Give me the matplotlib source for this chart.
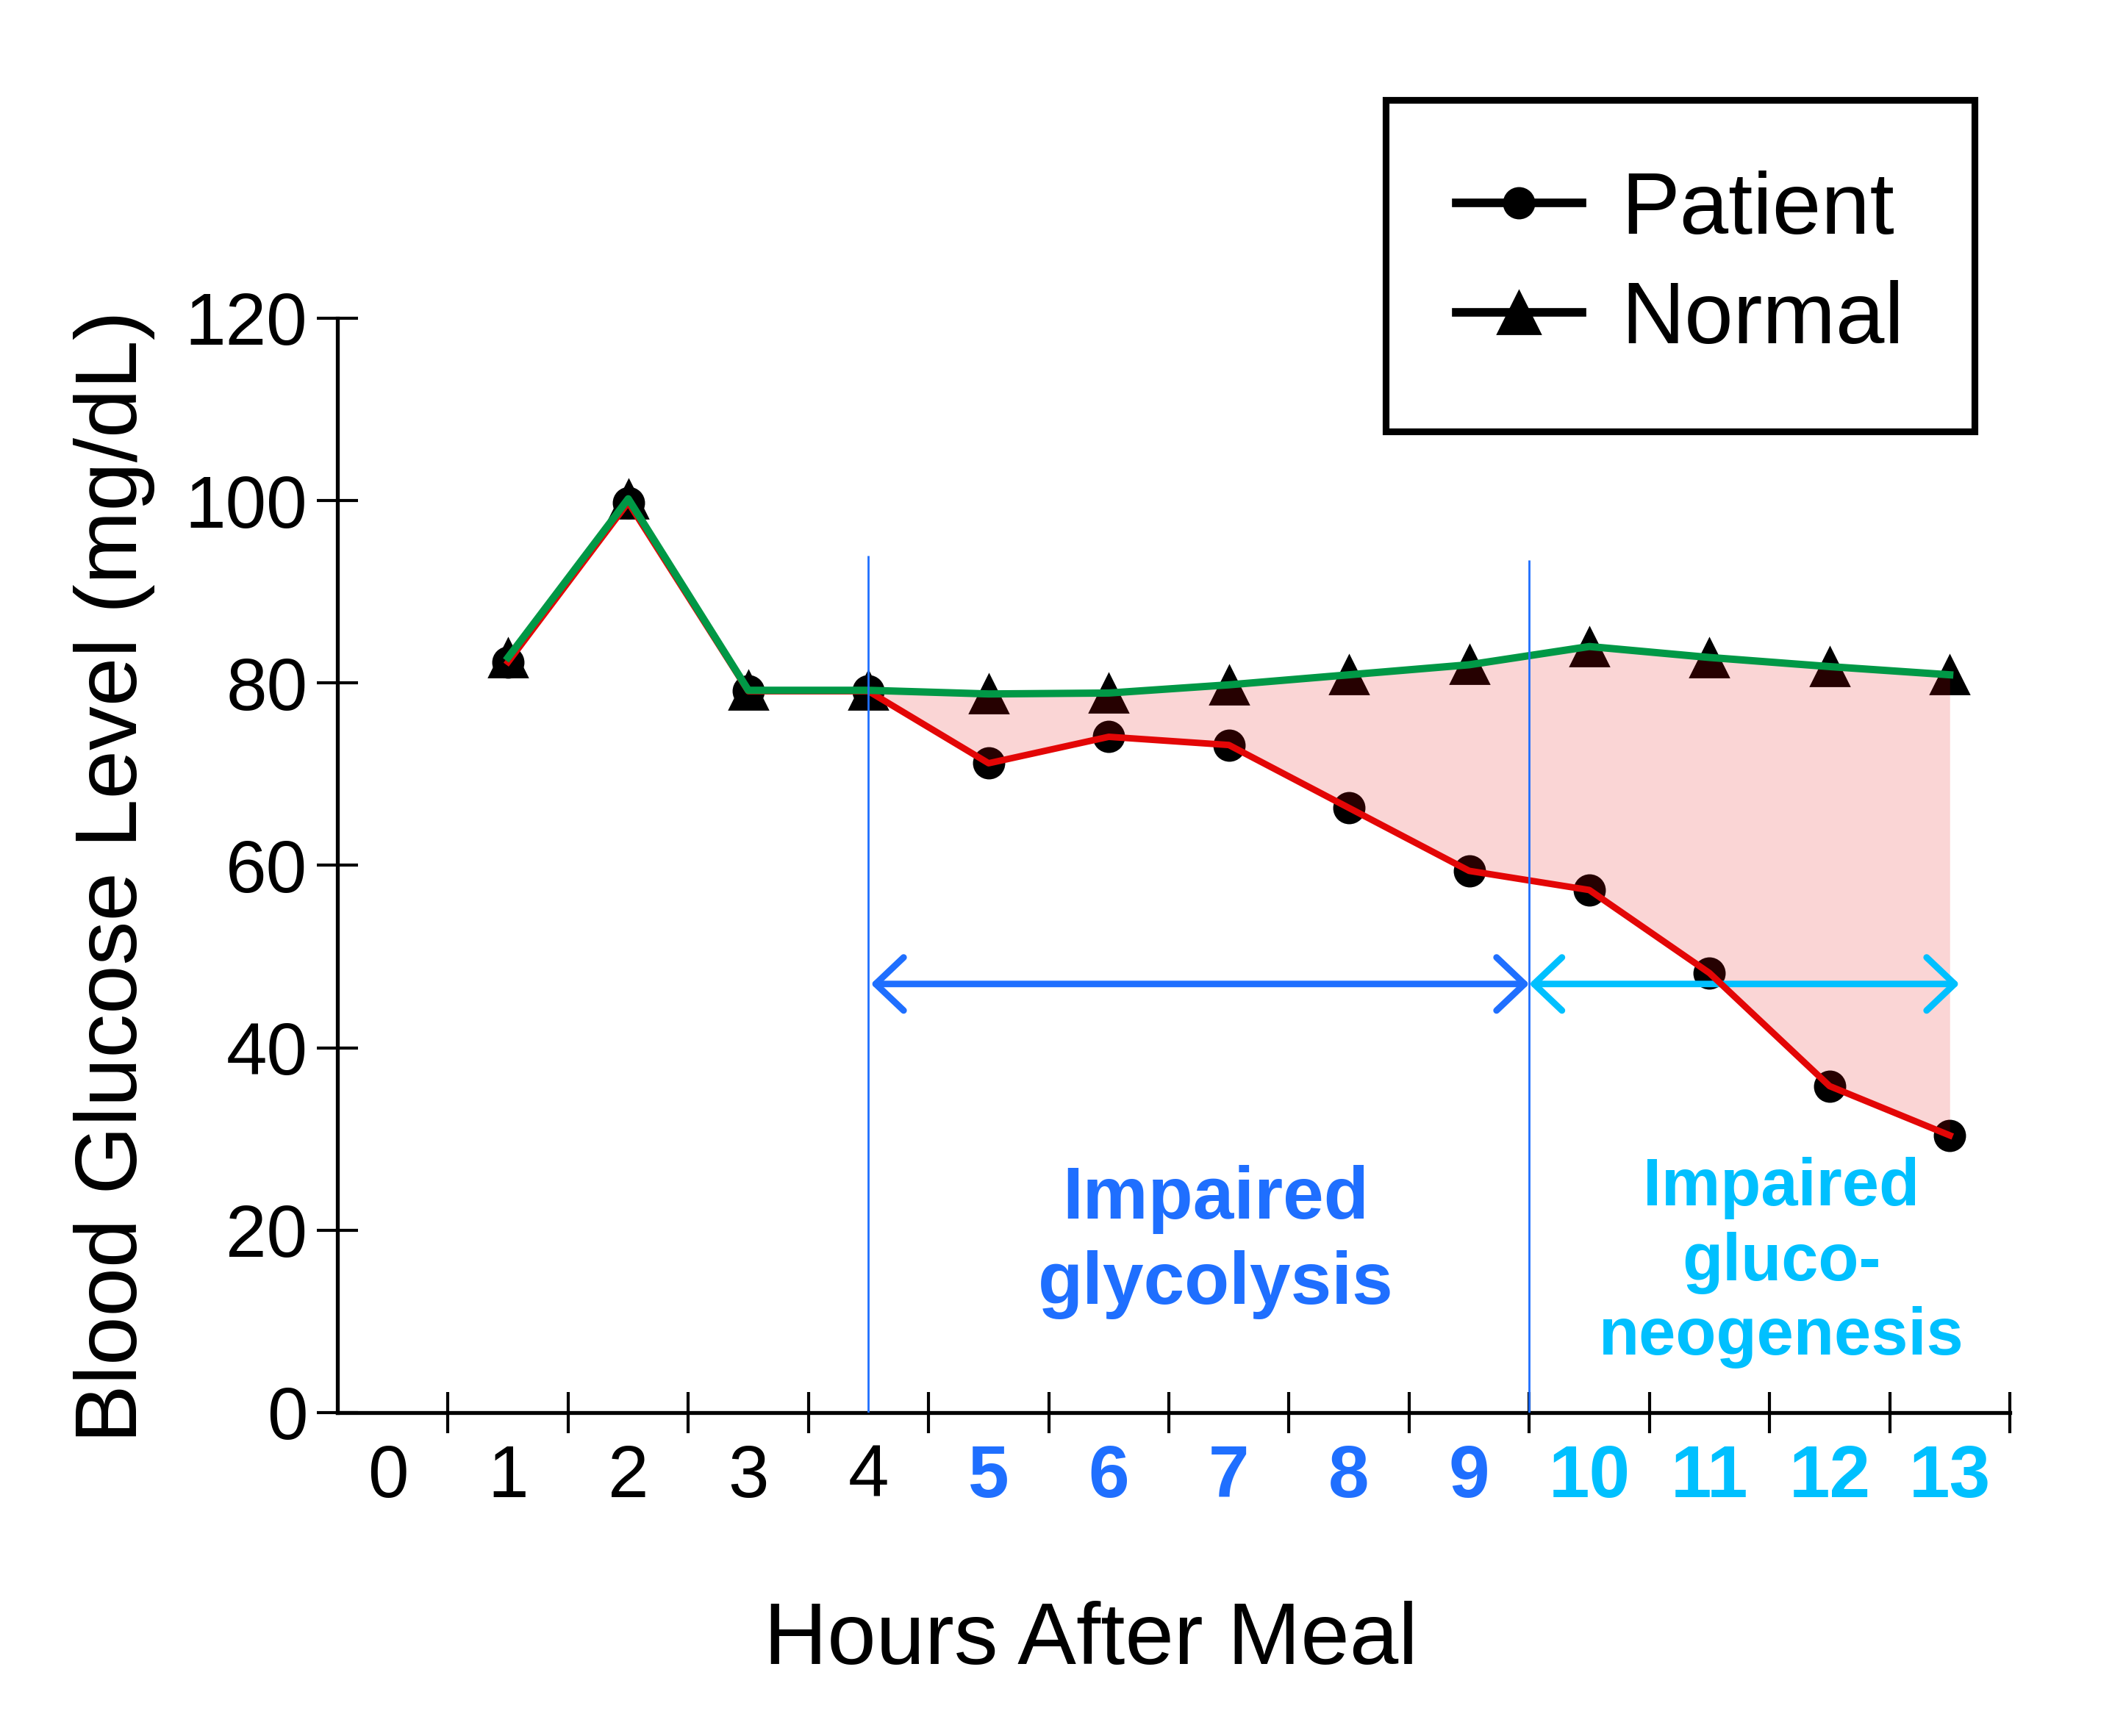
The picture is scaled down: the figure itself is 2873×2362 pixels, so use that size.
import matplotlib
matplotlib.use("Agg")
import matplotlib.pyplot as plt
from matplotlib.lines import Line2D
from matplotlib.patches import FancyArrowPatch, ArrowStyle

plt.rcParams['font.family'] = ['Liberation Sans', 'DejaVu Sans']

# data
hours = [1, 2, 3, 4, 5, 6, 7, 8, 9, 10, 11, 12, 13]
patient = [82.3, 99.8, 79.1, 79.1, 71.2, 74.1, 73.2, 66.3, 59.4, 57.3, 48.2, 35.8, 30.4]
normal = [82.8, 100.2, 79.2, 79.2, 78.8, 78.9, 79.8, 80.9, 82.0, 84.0, 82.8, 81.8, 80.9]
hour_labels = [str(h) for h in range(14)]
y_ticks = [0, 20, 40, 60, 80, 100, 120]

RED = '#e30606'
GREEN = '#009846'
BLUE = '#1f6fff'
CYAN = '#00c0ff'

fig = plt.figure(figsize=(14.365, 11.81), dpi=200)
ax = fig.add_axes([0.1598, 0.1863, 0.7918, 0.6304])

# markers first, then the shaded gap, then the lines on top
ax.plot(hours, patient, 'o', color='black', ms=14.8, zorder=2)
ax.plot(hours, normal, '^', color='black', ms=18.5, zorder=2)
ax.fill_between(hours[3:], patient[3:], normal[3:], color=RED, alpha=0.17,
                lw=0, zorder=3)
ax.plot(hours, patient, color=RED, lw=3.2, zorder=4)
ax.plot(hours, normal, color=GREEN, lw=3.6, zorder=5)

# phase boundaries
ax.vlines(4, 0, 94, color=BLUE, lw=1.0, zorder=6)
ax.vlines(9.5, 0, 93.5, color=BLUE, lw=1.0, zorder=6)

style = ArrowStyle('<->', head_length=13.7, head_width=13)
for x0, x1, c in [(4.02, 9.5, BLUE), (9.5, 13.08, CYAN)]:
    arr = FancyArrowPatch((x0, 47), (x1, 47), arrowstyle=style, mutation_scale=1,
                          color=c, lw=3.2, shrinkA=0, shrinkB=0,
                          capstyle='round', joinstyle='round', zorder=3.5)
    ax.add_patch(arr)

ax.text(6.89, 18.7, 'Impaired\nglycolysis', color=BLUE, fontsize=36,
        fontweight='bold', ha='center', va='center', linespacing=1.3)
ax.text(11.6, 16.4, 'Impaired\ngluco-\nneogenesis', color=CYAN, fontsize=32.5,
        fontweight='bold', ha='center', va='center', linespacing=1.25)

ax.set_xlim(-0.42, 13.5)
ax.set_ylim(0, 120)
for side in ['top', 'right']:
    ax.spines[side].set_visible(False)
for side in ['left', 'bottom']:
    ax.spines[side].set_linewidth(1.9)

ax.set_yticks(y_ticks)
ax.tick_params(axis='y', direction='inout', length=20, width=1.5, pad=4.7,
               labelsize=36)

# tick marks sit between hours, labels sit on the hours
ax.set_xticks([h + 0.5 for h in range(14)])
ax.set_xticklabels([])
ax.set_xticks(range(14), minor=True)
ax.set_xticklabels(hour_labels, minor=True)
ax.tick_params(axis='x', which='major', direction='inout', length=20, width=1.5)
ax.tick_params(axis='x', which='minor', length=0, pad=15, labelsize=36)
for i, lab in enumerate(ax.get_xticklabels(minor=True)):
    if 5 <= i <= 9:
        lab.set_color(BLUE)
        lab.set_fontweight('bold')
    elif i >= 10:
        lab.set_color(CYAN)
        lab.set_fontweight('bold')

ax.set_ylabel('Blood Glucose Level (mg/dL)', fontsize=43)
ax.yaxis.set_label_coords(-0.109, 0.49)
ax.set_xlabel('Hours After Meal', fontsize=43, va='top')
ax.xaxis.set_label_coords(0.4505, -0.172)

handles = [
    Line2D([], [], color='black', lw=4.2, marker='o', ms=14.8),
    Line2D([], [], color='black', lw=4.2, marker='^', ms=21),
]
leg = ax.legend(handles, ['Patient', 'Normal'], loc='upper right',
                bbox_to_anchor=(0.9349, 0.9424), bbox_transform=fig.transFigure,
                borderaxespad=0, fontsize=43, handlelength=1.43,
                handletextpad=0.45, labelspacing=0.32, borderpad=0.8,
                fancybox=False, framealpha=1, edgecolor='black')
leg.get_frame().set_linewidth(3.3)

fig.savefig('out.png', dpi=200)
